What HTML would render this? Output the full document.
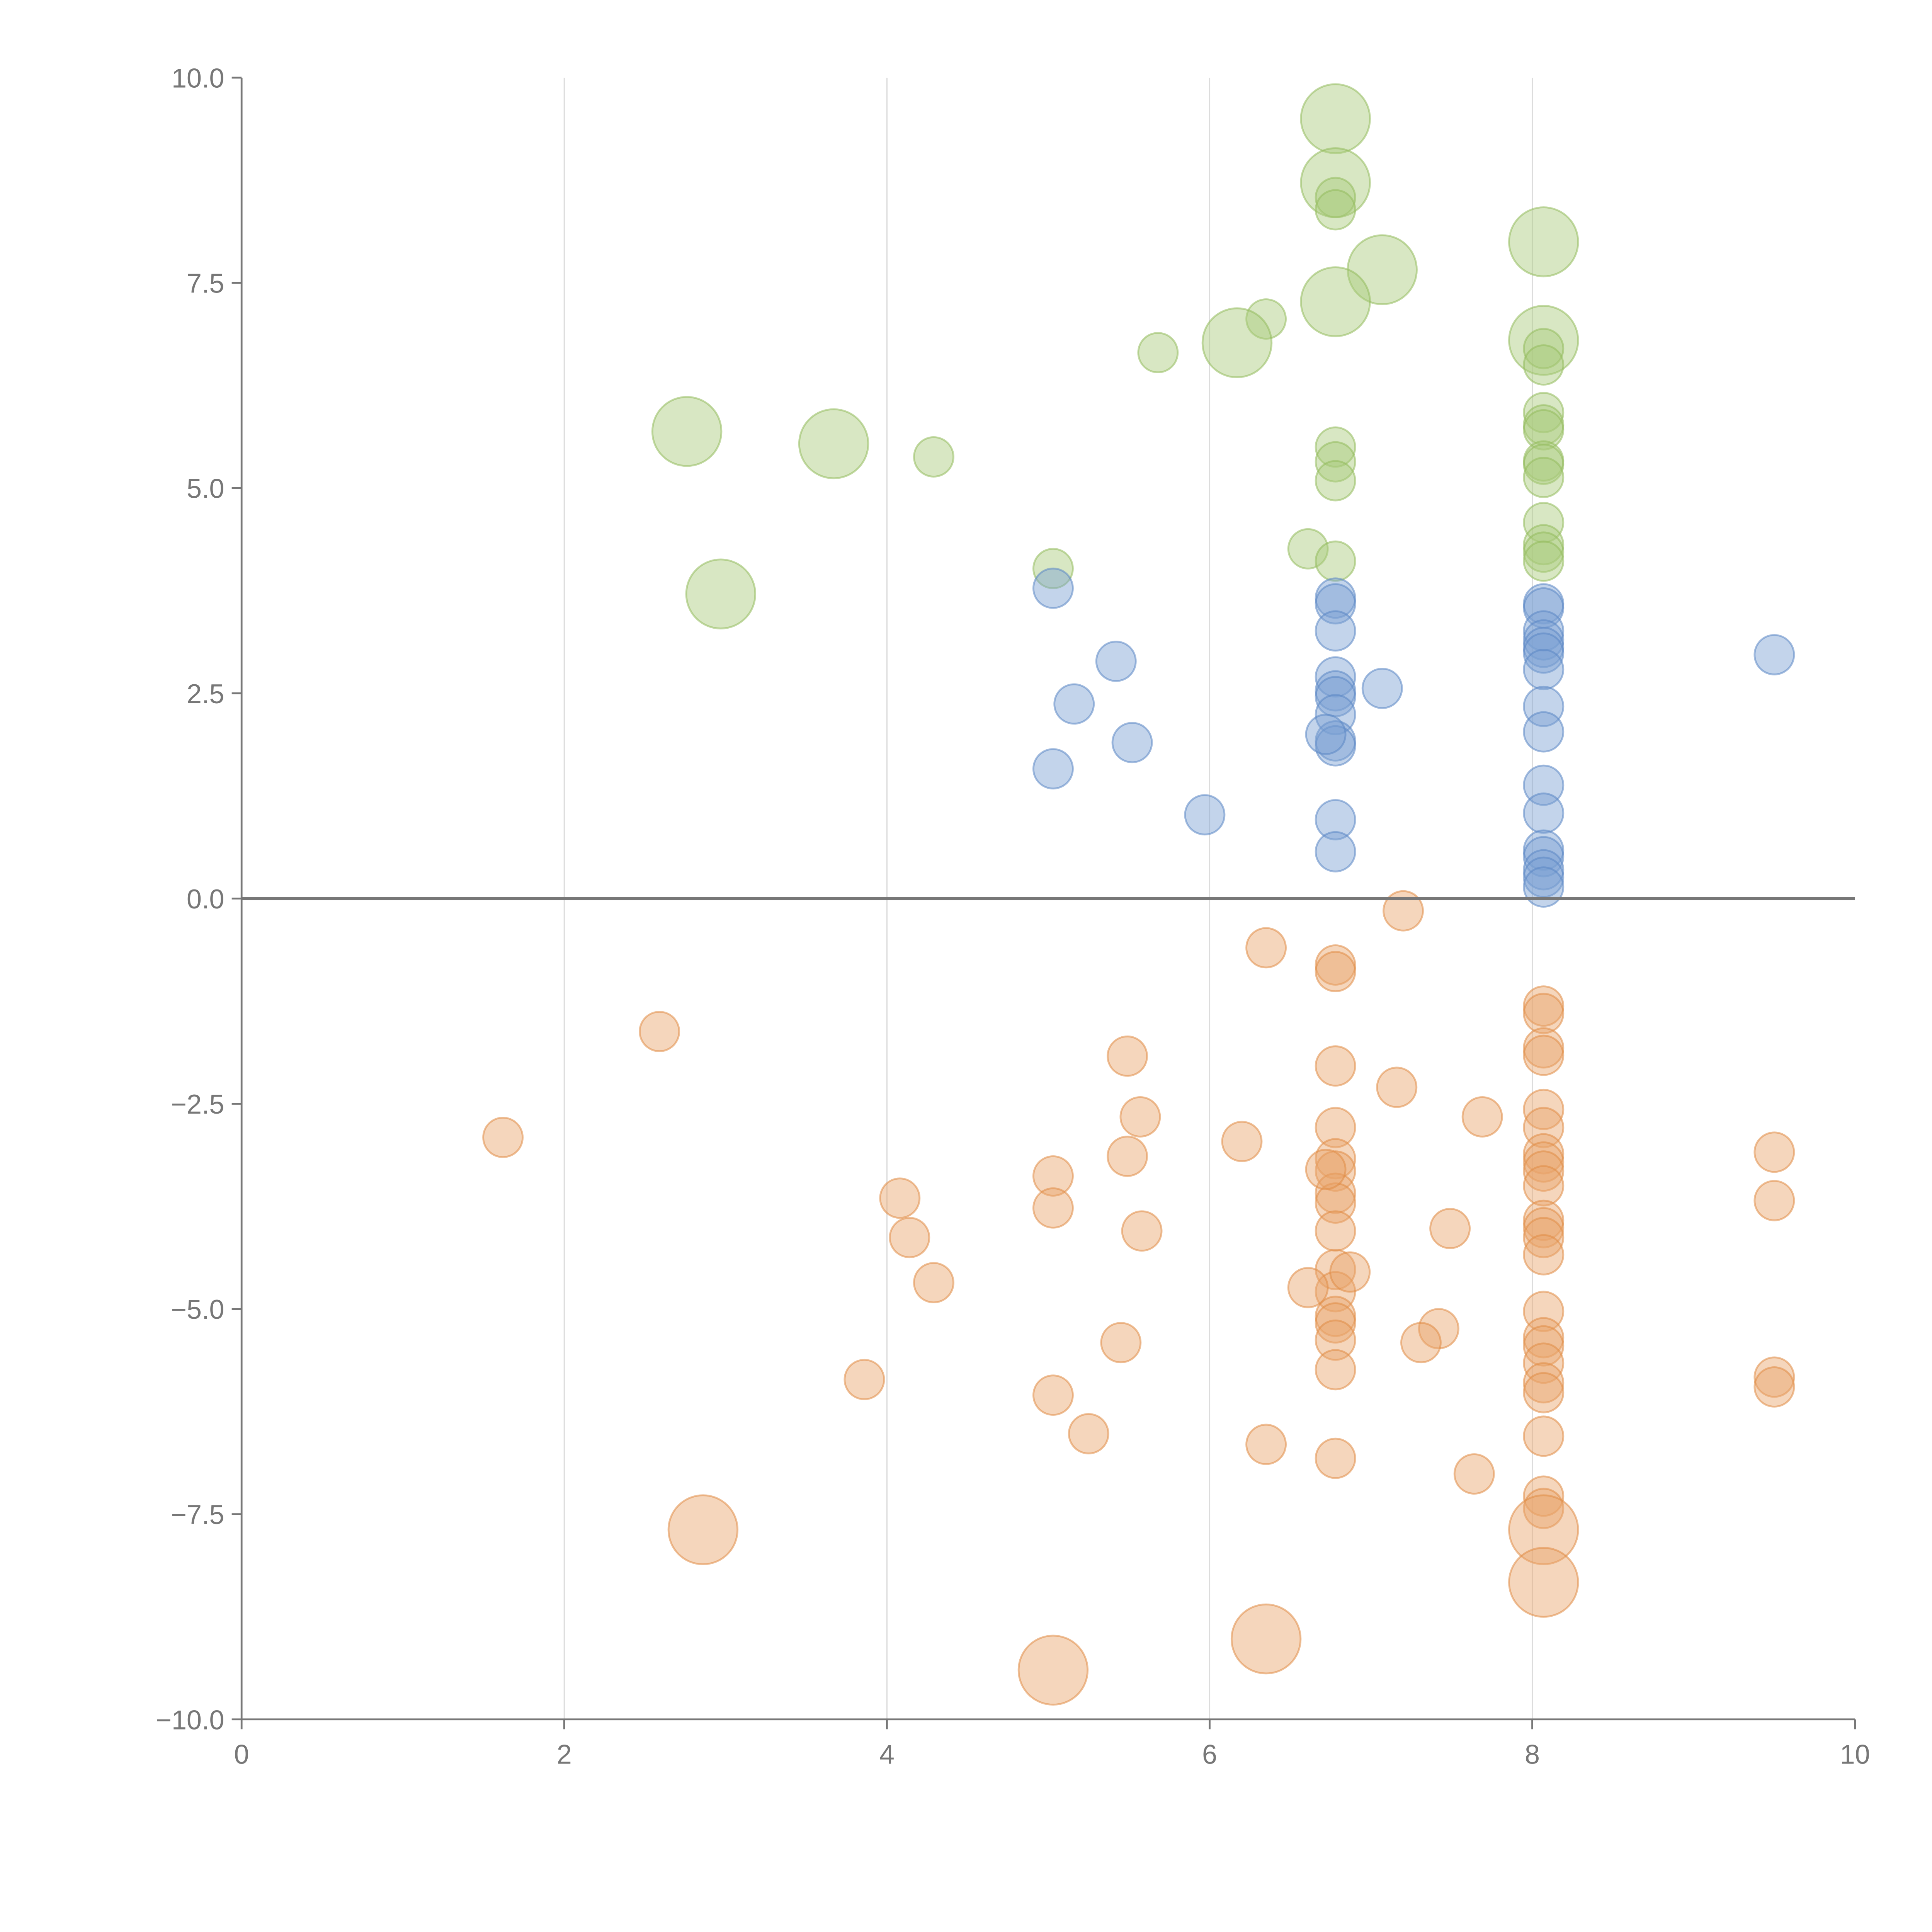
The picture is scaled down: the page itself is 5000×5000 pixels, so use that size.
<!DOCTYPE html>
<html><head><meta charset="utf-8"><style>
html,body{margin:0;padding:0;background:#fff;}
svg{display:block;font-family:"Liberation Sans",sans-serif;}
</style></head><body>
<svg id="chart" width="5000" height="5000" viewBox="0 0 1567.5 1567.5" xmlns="http://www.w3.org/2000/svg">
<g id="grid"></g>
<g id="marks"></g>
<g id="axes"></g>
</svg>
<script>
const xTicks=[0,2,4,6,8,10];
const yTicks=[-10,-7.5,-5,-2.5,0,2.5,5,7.5,10];
const greenX=[6.78,6.78,6.78,6.78,8.07,7.07,6.78,6.35,6.17,5.68,8.07,8.07,8.07,2.76,3.67,4.29,6.78,6.78,6.78,8.07,8.07,8.07,8.07,8.07,8.07,8.07,8.07,8.07,8.07,6.61,6.78,5.03,2.97];
const greenY=[9.5,8.72,8.54,8.39,8.0,7.66,7.27,7.06,6.77,6.65,6.8,6.7,6.5,5.69,5.54,5.38,5.5,5.32,5.09,5.92,5.77,5.71,5.33,5.29,5.13,4.58,4.31,4.22,4.11,4.26,4.11,4.02,3.71];
const greenBig=[1,1,0,0,1,1,1,0,1,0,1,0,0,1,1,0,0,0,0,0,0,0,0,0,0,0,0,0,0,0,0,0,1];
const blueX=[5.03,5.42,5.16,5.52,5.03,5.97,7.07,6.78,6.78,6.78,6.78,6.78,6.78,6.78,6.78,6.78,6.72,6.78,6.78,8.07,8.07,8.07,8.07,8.07,8.07,8.07,8.07,8.07,8.07,8.07,8.07,8.07,8.07,8.07,8.07,9.5];
const blueY=[3.78,2.89,2.37,1.9,1.58,1.02,2.56,3.66,3.59,3.26,2.7,2.53,2.46,2.24,1.92,1.86,2.0,0.96,0.57,3.59,3.54,3.26,3.15,3.06,2.99,2.79,2.34,2.03,1.38,1.04,0.59,0.51,0.35,0.26,0.14,2.97];
const orangeX=[7.2,6.35,6.78,6.78,2.59,1.62,5.49,6.78,7.16,7.69,5.57,6.2,5.49,5.03,5.03,4.08,4.14,4.29,5.58,7.49,
6.78,6.78,6.78,6.78,6.78,6.78,6.78,6.78,6.78,6.78,6.78,6.78,6.78,6.72,6.87,6.61,7.42,7.31,5.45,3.86,5.03,5.25,6.35,7.64,
8.07,8.07,8.07,8.07,8.07,8.07,8.07,8.07,8.07,8.07,8.07,8.07,8.07,8.07,8.07,8.07,8.07,8.07,8.07,8.07,8.07,8.07,8.07,
8.07,8.07,2.86,6.35,5.03,9.5,9.5,9.5,9.5];
const orangeY=[-0.15,-0.6,-0.81,-0.89,-1.62,-2.91,-1.92,-2.04,-2.3,-2.66,-2.66,-2.96,-3.14,-3.38,-3.77,-3.65,-4.13,-4.68,-4.05,-4.02,
-2.79,-3.17,-3.32,-3.59,-3.71,-4.05,-4.52,-4.79,-5.09,-5.17,-5.38,-5.74,-6.82,-3.3,-4.55,-4.74,-5.24,-5.41,-5.41,-5.86,-6.05,-6.52,-6.65,-7.01,
-1.31,-1.4,-1.82,-1.91,-2.57,-2.79,-3.11,-3.21,-3.32,-3.5,-3.92,-4.01,-4.13,-4.34,-5.03,-5.35,-5.45,-5.66,-5.9,-6.02,-6.55,-7.28,-7.43,
-7.69,-8.33,-7.69,-9.02,-9.4,-3.09,-3.68,-5.83,-5.95];
const orangeBig=orangeY.map((v,i)=>i>=67&&i<=71?1:0);

const NS="http://www.w3.org/2000/svg";
const X0=196,X1=1505,Y0=1395,Y1=63;
function sx(v){return X0+(v-0)/(10-0)*(X1-X0);}
function sy(v){return Y0-(v+10)/20*(Y0-Y1);}
function mk(tag,attrs,parent){const e=document.createElementNS(NS,tag);for(const k in attrs)e.setAttribute(k,attrs[k]);parent.appendChild(e);return e;}
const grid=document.getElementById('grid'),marks=document.getElementById('marks'),axes=document.getElementById('axes');
xTicks.forEach(t=>{if(t>0&&t<10){const l=mk('line',{x1:sx(t),x2:sx(t),y1:Y1,y2:Y0,stroke:'#dcdcdc','stroke-width':1},grid);

}});
function series(xs,ys,big,fill,stroke,name){
 xs.forEach((x,i)=>{const r=big&&big[i]?28:16;
  const c=mk('circle',{cx:sx(x),cy:sy(ys[i]),r:r,fill:fill,'fill-opacity':0.45,stroke:stroke,'stroke-opacity':0.55,'stroke-width':1.5},marks);
  
  
 });
}
series(greenX,greenY,greenBig,'#a9c97a','#93bb5c','green-point');
series(blueX,blueY,null,'#7b9fd2','#5b86c4','blue-point');
series(orangeX,orangeY,orangeBig,'#e9a46a','#e08d45','orange-point');
const zl=mk('line',{x1:X0,x2:X1,y1:sy(0),y2:sy(0),stroke:'#777','stroke-width':2.5},axes);


const ya=mk('line',{x1:X0,x2:X0,y1:Y1,y2:Y0,stroke:'#777','stroke-width':1.5},axes);


const xa=mk('line',{x1:X0,x2:X1,y1:Y0,y2:Y0,stroke:'#777','stroke-width':1.5},axes);


xTicks.forEach(t=>{mk('line',{x1:sx(t),x2:sx(t),y1:Y0,y2:Y0+8,stroke:'#777','stroke-width':1.5},axes);
 const tx=mk('text',{x:sx(t),y:Y0+36,'text-anchor':'middle','font-size':22,fill:'#777'},axes);tx.textContent=String(t);
 
 });
yTicks.forEach(t=>{mk('line',{x1:X0-8,x2:X0,y1:sy(t),y2:sy(t),stroke:'#777','stroke-width':1.5},axes);
 const tx=mk('text',{x:X0-14,y:sy(t)+8,'text-anchor':'end','font-size':22,fill:'#777'},axes);tx.textContent=(t<0?'\u2212':'')+Math.abs(t).toFixed(1);
 
 });
</script>
</body></html>
